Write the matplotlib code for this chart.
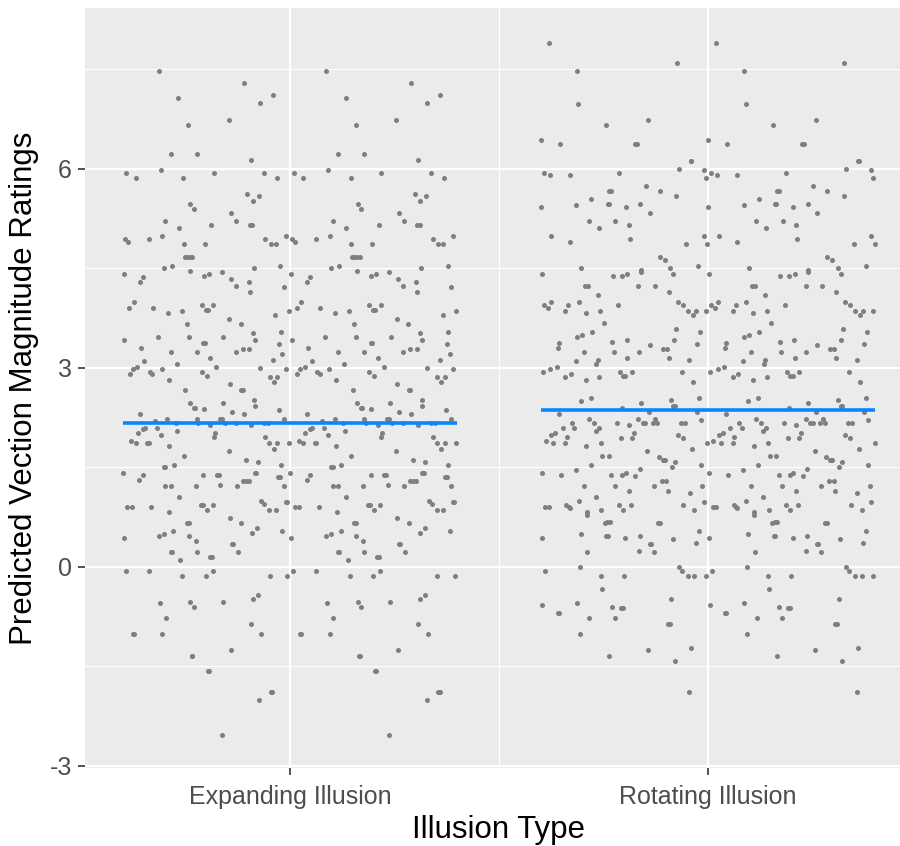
import numpy as np
from matplotlib import pyplot as plt
from matplotlib.ticker import FixedLocator

# categories and group means
categories = ["Expanding Illusion", "Rotating Illusion"]
group_means = [2.17, 2.37]

# jittered predictions: x jitter (in category units, left half of the band)
# and rating. each group repeats the same jitter pattern in the right half.
exp_jitter = [
    -0.314, -0.110, -0.267, -0.041, -0.072, -0.243, -0.146, -0.285, -0.222, -0.093,
    -0.391, -0.309, -0.369, -0.255, -0.182, -0.062, -0.031, -0.102, -0.074, -0.089,
    -0.238, -0.230, -0.140, -0.298, -0.128, -0.265, -0.188, -0.096, -0.090, -0.395,
    -0.388, -0.337, -0.305, -0.254, -0.203, -0.059, -0.045, -0.033, -0.009, -0.252,
    -0.246, -0.239, -0.233, -0.301, -0.282, -0.087, -0.023,
    -0.397, -0.351, -0.359, -0.239, -0.205, -0.193, -0.162, -0.141, -0.129, -0.099,
    -0.095, -0.015, -0.373, -0.384, -0.328, -0.291, -0.259, -0.211, -0.201, -0.197,
    -0.183, -0.247, -0.145, -0.118, -0.035, -0.003, -0.396, -0.315, -0.242, -0.207,
    -0.203, -0.159, -0.089, -0.083, -0.021, -0.356, -0.285, -0.223, -0.190, -0.130,
    -0.112, -0.097, -0.025, -0.018, -0.041, -0.348, -0.375, -0.365, -0.383, -0.335,
    -0.329, -0.307, -0.270, -0.290, -0.211, -0.199, -0.176, -0.071, -0.048, -0.030,
    -0.039, -0.010, -0.250, -0.144, -0.116, -0.113, -0.085, -0.083, -0.240, -0.230,
    -0.227, -0.206, -0.161, -0.138, -0.110, -0.027, -0.358, -0.293, -0.222, -0.167,
    -0.163, -0.323, -0.273, -0.219, -0.190, -0.156, -0.129, -0.093, -0.062, -0.053,
    -0.015, -0.352, -0.347, -0.319, -0.363, -0.269, -0.309, -0.179, -0.182, -0.379,
    -0.369, -0.341, -0.337, -0.289, -0.059, -0.049, -0.030, -0.038, -0.002, -0.146,
    -0.254, -0.106, -0.077, -0.022, -0.302, -0.298, -0.278, -0.399, -0.352, -0.360,
    -0.207, -0.175, -0.170, -0.083, -0.080, -0.028, -0.024, -0.298, -0.284, -0.225,
    -0.166, -0.127, -0.112, -0.105, -0.099, -0.014, -0.266, -0.389, -0.378, -0.331,
    -0.288, -0.213, -0.209, -0.199, -0.185, -0.068, -0.061, -0.049, -0.033, -0.010,
    -0.007, -0.143,
    -0.247, -0.242, -0.116, -0.078, -0.090, -0.018, -0.397, -0.313, -0.301, -0.279,
    -0.242, -0.225, -0.139, -0.136, -0.285, -0.282, -0.222, -0.262, -0.191, -0.187,
    -0.125, -0.392, -0.337, -0.257, -0.201, -0.184, -0.048, -0.006, -0.076, -0.088,
    -0.311, -0.238, -0.229, -0.161, -0.296, -0.093, -0.376, -0.373, -0.305, -0.070,
    -0.235, -0.233, -0.142, -0.196, -0.194, -0.045, -0.042, -0.073, -0.163,
]
exp_rating = [
    7.47, 7.30, 7.06, 7.11, 6.99, 6.66, 6.74, 6.22, 6.22, 6.14,
    5.94, 5.98, 5.86, 5.86, 5.94, 5.94, 5.86, 5.62, 5.59, 5.52,
    5.47, 5.39, 5.34, 5.22, 5.22, 5.10, 5.15, 5.15, 5.15, 4.94,
    4.90, 4.94, 4.98, 4.86, 4.87, 4.94, 4.86, 4.86, 4.98, 4.67,
    4.67, 4.67, 4.67, 4.50, 4.54, 4.51, 4.54,
    4.42, 4.37, 4.30, 4.46, 4.38, 4.42, 4.45, 4.34, 4.23, 4.30,
    4.14, 4.22, 3.99, 3.90, 3.90, 3.82, 3.86, 3.95, 3.87, 3.87,
    3.94, 3.66, 3.74, 3.66, 3.79, 3.86, 3.42, 3.46, 3.47, 3.38,
    3.38, 3.47, 3.52, 3.42, 3.54, 3.30, 3.23, 3.23, 3.14, 3.23,
    3.29, 3.29, 3.36, 3.21, 3.11, 3.10, 2.98, 3.01, 2.90, 2.94,
    2.90, 2.98, 3.06, 2.82, 2.94, 2.87, 3.01, 2.99, 2.86, 2.86,
    2.78, 2.98, 2.66, 2.75, 2.66, 2.66, 2.51, 2.42, 2.47, 2.39,
    2.39, 2.38, 2.47, 2.34, 2.30, 2.36, 2.30, 2.22, 2.22, 2.23,
    2.23, 2.19, 2.17, 2.17, 2.14, 2.17, 2.17, 2.14, 2.17, 2.17,
    2.22, 2.08, 2.09, 2.09, 2.01, 2.05, 1.99, 2.01, 1.95, 1.90,
    1.86, 1.86, 1.86, 1.82, 1.95, 1.86, 1.86, 1.78, 1.86, 1.74,
    1.67, 1.61, 1.58, 1.54, 1.50, 1.50, 1.54, 1.42, 1.38, 1.30,
    1.38, 1.38, 1.38, 1.42, 1.42, 1.36, 1.36, 1.22, 1.22, 1.22,
    1.23, 1.22, 1.29, 1.29, 1.29, 1.22, 1.05, 0.90, 0.90, 0.90,
    0.82, 0.93, 0.93, 0.86, 0.93, 0.99, 0.94, 0.86, 0.86, 0.97,
    0.97, 0.74,
    0.66, 0.66, 0.66, 0.58, 0.51, 0.54, 0.43, 0.46, 0.50, 0.54,
    0.47, 0.39, 0.34, 0.34, 0.22, 0.22, 0.22, 0.10, 0.14, 0.14,
    0.22, -0.06, -0.06, -0.14, -0.14, -0.06, -0.14, -0.14, -0.42, -0.49,
    -0.54, -0.53, -0.61, -0.53, -0.78, -0.86, -1.02, -1.02, -1.02, -1.01,
    -1.34, -1.34, -1.26, -1.57, -1.57, -1.89, -1.89, -2.01, -2.54,
]

rot_jitter = [
    -0.380, -0.075, -0.314, -0.310, -0.245, -0.143, -0.400, -0.354, -0.175, -0.170,
    -0.042, -0.040, -0.393, -0.379, -0.331, -0.214, -0.070, -0.010, -0.005, -0.236,
    -0.231, -0.148, -0.116, -0.076, -0.279, -0.400, -0.315, -0.240, -0.237, -0.196,
    -0.162, -0.140, -0.285, -0.262, -0.222, -0.189, -0.375, -0.330, -0.187, -0.052,
    -0.010, -0.002, -0.116, -0.104, -0.090, -0.023, -0.303, -0.160,
    -0.398, -0.227, -0.207, -0.193, -0.160, -0.083, -0.295, -0.287, -0.167, -0.127,
    -0.093, -0.264, -0.392, -0.383, -0.376, -0.341, -0.334, -0.309, -0.293, -0.258,
    -0.215, -0.250, -0.072, -0.060, -0.049, -0.037, -0.030, -0.005, -0.077, -0.020,
    -0.313, -0.301, -0.278, -0.356, -0.360, -0.229, -0.195, -0.139, -0.082, -0.109,
    -0.099, -0.026, -0.297, -0.226, -0.166, -0.193, -0.093, -0.317, -0.263, -0.267,
    -0.045, -0.395, -0.377, -0.362, -0.341, -0.329, -0.293, -0.260, -0.211, -0.203,
    -0.198, -0.183, -0.063, -0.037, -0.304, -0.281, -0.161, -0.089, -0.083, -0.080,
    -0.022, -0.356, -0.206, -0.141, -0.026, -0.325, -0.320, -0.285, -0.274, -0.218,
    -0.189, -0.167, -0.156, -0.150, -0.132, -0.126, -0.121, -0.065, -0.056, -0.018,
    -0.347, -0.262, -0.269, -0.365, -0.375, -0.337, -0.388, -0.370, -0.341, -0.291,
    -0.256, -0.209, -0.182, -0.178, -0.073, -0.061, -0.039, -0.002, -0.145, -0.253,
    -0.238, -0.118, -0.108, -0.104, -0.079, -0.086, -0.018, -0.280, -0.397, -0.352,
    -0.316, -0.231, -0.205, -0.197, -0.174, -0.163, -0.297, -0.223, -0.190, -0.130,
    -0.111, -0.100, -0.096, -0.014, -0.044, -0.268, -0.309, -0.389, -0.380, -0.339,
    -0.333, -0.330, -0.290, -0.255, -0.214, -0.203, -0.184, -0.059, -0.033, -0.010,
    -0.290, -0.247, -0.241, -0.235, -0.120, -0.115, -0.022, -0.398, -0.305, -0.243,
    -0.239, -0.198, -0.164, -0.140, -0.136, -0.085, -0.030, -0.289, -0.165, -0.129,
    -0.391, -0.307, -0.257, -0.202, -0.070, -0.062, -0.048, -0.033, -0.006, -0.254,
    -0.396, -0.313, -0.230, -0.208, -0.204, -0.088, -0.359, -0.356, -0.284, -0.223,
    -0.097, -0.092, -0.307, -0.041, -0.144, -0.236, -0.080, -0.045,
]
rot_rating = [
    7.90, 7.59, 7.47, 6.98, 6.66, 6.74, 6.43, 6.37, 6.37, 6.37,
    6.11, 6.11, 5.94, 5.90, 5.90, 5.94, 5.99, 5.98, 5.86, 5.67,
    5.67, 5.74, 5.66, 5.59, 5.55, 5.43, 5.46, 5.47, 5.47, 5.42,
    5.47, 5.34, 5.22, 5.10, 5.22, 5.15, 4.99, 4.90, 4.94, 4.86,
    4.98, 4.86, 4.67, 4.62, 4.51, 4.54, 4.50, 4.47,
    4.42, 4.39, 4.39, 4.42, 4.45, 4.42, 4.23, 4.23, 4.23, 4.23,
    4.14, 4.10, 3.95, 3.90, 3.99, 3.86, 3.94, 3.99, 3.82, 3.86,
    3.94, 3.67, 3.99, 3.94, 3.86, 3.79, 3.86, 3.86, 3.58, 3.54,
    3.46, 3.50, 3.54, 3.38, 3.30, 3.39, 3.42, 3.34, 3.42, 3.29,
    3.29, 3.36, 3.23, 3.23, 3.23, 3.14, 3.14, 3.10, 3.11, 3.06,
    3.11, 2.94, 2.98, 3.01, 2.86, 2.90, 2.82, 2.86, 2.94, 2.87,
    2.87, 2.94, 2.94, 2.79, 2.50, 2.54, 2.47, 2.51, 2.42, 2.42,
    2.54, 2.30, 2.39, 2.33, 2.34, 2.17, 2.09, 2.22, 2.17, 2.17,
    2.14, 2.22, 2.17, 2.17, 2.17, 2.22, 2.17, 2.17, 2.17, 2.21,
    2.09, 2.09, 2.05, 2.01, 1.98, 1.95, 1.90, 1.86, 1.86, 1.82,
    1.86, 1.94, 1.94, 2.01, 1.99, 1.94, 1.78, 1.86, 1.74, 1.67,
    1.67, 1.65, 1.61, 1.61, 1.58, 1.51, 1.54, 1.54, 1.42, 1.38,
    1.46, 1.38, 1.38, 1.42, 1.37, 1.47, 1.22, 1.22, 1.14, 1.22,
    1.29, 1.29, 1.14, 1.22, 1.11, 1.05, 0.99, 0.90, 0.90, 0.93,
    0.90, 0.88, 0.82, 0.86, 0.93, 0.86, 0.93, 0.93, 0.86, 0.97,
    0.78, 0.66, 0.67, 0.67, 0.66, 0.66, 0.54, 0.43, 0.50, 0.47,
    0.47, 0.43, 0.47, 0.34, 0.34, 0.42, 0.36, 0.22, 0.23, 0.22,
    -0.06, -0.01, -0.14, -0.14, -0.01, -0.06, -0.14, -0.14, -0.14, -0.34,
    -0.58, -0.54, -0.61, -0.62, -0.62, -0.49, -0.70, -0.70, -0.78, -0.78,
    -0.86, -0.86, -1.02, -1.22, -1.26, -1.34, -1.42, -1.89,
]

# y axis ticks
y_ticks = [-3, 0, 3, 6]
y_minor = [-1.5, 1.5, 4.5, 7.5]

# ggplot-ish look
point_color = "#7f7f7f"
line_color = "#0a84ff"
panel_color = "#ebebeb"
text_color = "#4d4d4d"
plt.rcParams["font.family"] = ["Liberation Sans", "DejaVu Sans"]
plt.rcParams["axes.unicode_minus"] = False  # plain hyphen like the reference

fig = plt.figure(figsize=(9, 8.46), dpi=100)
# panel runs a bit past the right edge of the picture, as in the reference
ax = fig.add_axes([85 / 900, 1 - 768.3 / 846, 828 / 900, 760 / 846])
ax.set_facecolor(panel_color)
for s in ax.spines.values():
    s.set_visible(False)

groups = [(exp_jitter, exp_rating), (rot_jitter, rot_rating)]
for i, (jit, rating) in enumerate(groups):
    pos = i + 1
    jit = np.array(jit)
    rating = np.array(rating)
    # the jitter pattern appears twice across the band
    for shift in (0.0, 0.4):
        ax.scatter(pos + jit + shift, rating, s=13, color=point_color,
                   linewidths=0, zorder=3)
    ax.hlines(group_means[i], pos - 0.4, pos + 0.4, color=line_color,
              linewidth=2.6, zorder=4)

ax.set_xlim(0.51, 2.49)
ax.set_ylim(-3.04, 8.42)
ax.set_xticks([1, 2])
ax.set_xticklabels(categories)
ax.xaxis.set_minor_locator(FixedLocator([1.5]))
ax.set_yticks(y_ticks)
ax.yaxis.set_minor_locator(FixedLocator(y_minor))

ax.grid(which="major", color="white", linewidth=1.6, zorder=0)
ax.grid(which="minor", color="white", linewidth=0.8, zorder=0)
ax.set_axisbelow(True)

ax.tick_params(which="major", length=4.8, width=1.2, color="#333333",
               labelsize=18, labelcolor=text_color)
ax.tick_params(axis="x", which="major", pad=7.5)
ax.tick_params(axis="y", which="major", pad=4.5)
ax.tick_params(which="minor", length=0)

ax.set_xlabel("Illusion Type", fontsize=22.5, color="black", labelpad=4)
ax.set_ylabel("Predicted Vection Magnitude Ratings", fontsize=22.5,
              color="black", labelpad=8)

plt.savefig("out.png", dpi=100)
plt.close()
